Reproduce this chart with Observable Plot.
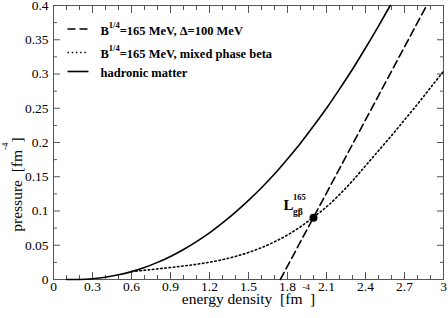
<!DOCTYPE html>
<html><head><meta charset="utf-8">
<script src="https://cdn.jsdelivr.net/npm/d3@7"></script>
<script src="https://cdn.jsdelivr.net/npm/@observablehq/plot@0.6"></script>
<style>
html,body{margin:0;padding:0;background:#fff;}
svg text{white-space:pre;}
</style></head><body><div id="chart"></div>
<script>
// tick values and labels
const xTicks = [0, 0.3, 0.6, 0.9, 1.2, 1.5, 1.8, 2.1, 2.4, 2.7, 3];
const xTickLabels = ["0", "0.3", "0.6", "0.9", "1.2", "1.5", "1.8", "2.1", "2.4", "2.7", "3"];
const xMinor = [0.1, 0.2, 0.4, 0.5, 0.7, 0.8, 1.0, 1.1, 1.3, 1.4, 1.6, 1.7, 1.9, 2.0, 2.2, 2.3, 2.5, 2.6, 2.8, 2.9];
const yTicks = [0, 0.05, 0.1, 0.15, 0.2, 0.25, 0.3, 0.35, 0.4];
const yTickLabels = ["0", "0.05", "0.1", "0.15", "0.2", "0.25", "0.3", "0.35", "0.4"];
const yMinor = [0.025, 0.075, 0.125, 0.175, 0.225, 0.275, 0.325, 0.375];

// series
const seriesNames = ["B^{1/4}=165 MeV, \u0394=100 MeV", "B^{1/4}=165 MeV, mixed phase beta", "hadronic matter"];
const hadronE = [0.1, 0.2, 0.3, 0.4, 0.5, 0.6, 0.7, 0.8, 0.9, 1.0, 1.1, 1.2, 1.3, 1.4, 1.5, 1.6, 1.7, 1.8, 1.9, 2.0, 2.1, 2.2, 2.3, 2.4, 2.5, 2.59];
const hadronP = [0, 0.0001, 0.0011, 0.0033, 0.0068, 0.0115, 0.0175, 0.025, 0.0335, 0.0437, 0.0552, 0.068, 0.0825, 0.0983, 0.1155, 0.134, 0.154, 0.176, 0.199, 0.224, 0.250, 0.278, 0.307, 0.338, 0.370, 0.400];
const mixedE = [0.6, 0.7, 0.8, 0.9, 1.0, 1.1, 1.2, 1.3, 1.4, 1.5, 1.6, 1.7, 1.8, 1.9, 2.0, 2.1, 2.2, 2.3, 2.4, 2.5, 2.6, 2.7, 2.8, 2.9, 3.0];
const mixedP = [0.0115, 0.0135, 0.0155, 0.0175, 0.0197, 0.0222, 0.0252, 0.029, 0.0337, 0.0395, 0.0465, 0.055, 0.065, 0.077, 0.091, 0.106, 0.124, 0.144, 0.166, 0.188, 0.210, 0.233, 0.256, 0.280, 0.304];
const dashE = [1.745, 2.87];
const dashP = [0, 0.4];
const pointE = [2.0];
const pointP = [0.09];
const pointLabel = ["L", "165", "g\u03b2"];

const hadron = hadronE.map((e, i) => ({e, p: hadronP[i]}));
const mixed = mixedE.map((e, i) => ({e, p: mixedP[i]}));
const dashed = dashE.map((e, i) => ({e, p: dashP[i]}));
const point = pointE.map((e, i) => ({e, p: pointP[i]}));

const FONT = "'Liberation Serif', 'Times New Roman', serif";
const GRAY = "#555";
const lineShape = {draw(ctx, l) { ctx.moveTo(0, 0); ctx.lineTo(0, -l); }};
const legendStyles = [
  {strokeDasharray: "8,4", strokeWidth: 1.6},
  {strokeDasharray: "1.5,2.7", strokeWidth: 1.6},
  {strokeDasharray: null, strokeWidth: 1.6}
];
const legendLineDy = [23.5, 47, 66];
const legendTextDy = [29, 52, 71];

const marks = [
  Plot.frame({stroke: GRAY}),
  // inward ticks
  Plot.axisX({anchor: "bottom", ticks: xTicks, tickSize: -7, fill: "none", label: null, stroke: GRAY}),
  Plot.axisX({anchor: "bottom", ticks: xMinor, tickSize: -4, fill: "none", label: null, stroke: GRAY}),
  Plot.axisX({anchor: "top", ticks: xTicks, tickSize: -7, fill: "none", label: null, stroke: GRAY}),
  Plot.axisX({anchor: "top", ticks: xMinor, tickSize: -4, fill: "none", label: null, stroke: GRAY}),
  Plot.axisY({anchor: "left", ticks: yTicks, tickSize: -7, fill: "none", label: null, stroke: GRAY}),
  Plot.axisY({anchor: "left", ticks: yMinor, tickSize: -4, fill: "none", label: null, stroke: GRAY}),
  Plot.axisY({anchor: "right", ticks: yTicks, tickSize: -7, fill: "none", label: null, stroke: GRAY}),
  Plot.axisY({anchor: "right", ticks: yMinor, tickSize: -4, fill: "none", label: null, stroke: GRAY}),
  // tick labels
  Plot.axisX({anchor: "bottom", ticks: xTicks, tickSize: 0, tickPadding: 2, label: null,
    tickFormat: d => xTickLabels[xTicks.indexOf(d)], fontSize: 13.5, fill: "black"}),
  Plot.axisY({anchor: "left", ticks: yTicks, tickSize: 0, tickPadding: 5, label: null,
    tickFormat: d => yTickLabels[yTicks.indexOf(d)], fontSize: 13.5, fill: "black"}),
  // axis titles
  Plot.text(["energy density  [fm^{-4}]"], {frameAnchor: "bottom", text: d => d, dy: 24.5, lineAnchor: "bottom", textAnchor: "middle", fontSize: 15.5, fill: "black"}),
  Plot.text(["pressure  [fm^{-4}]"], {frameAnchor: "left", text: d => d, dx: -36, dy: 42, rotate: -90, lineAnchor: "middle", textAnchor: "middle", fontSize: 15.5, fill: "black"}),
  // curves
  Plot.line(hadron, {x: "e", y: "p", curve: "monotone-x", stroke: "black", strokeWidth: 1.6}),
  Plot.line(mixed, {x: "e", y: "p", curve: "monotone-x", stroke: "black", strokeWidth: 1.6, strokeDasharray: "1.5,2.7"}),
  Plot.line(dashed, {x: "e", y: "p", stroke: "black", strokeWidth: 1.6, strokeDasharray: "8,4"}),
  Plot.dot(point, {x: "e", y: "p", r: 4, fill: "black"}),
  // annotation
  Plot.text(point, {x: "e", y: "p", text: () => pointLabel[0], dx: -30, dy: -7.5, lineAnchor: "bottom", textAnchor: "start", fontWeight: "bold", fontSize: 15, fill: "black"}),
  Plot.text(point, {x: "e", y: "p", text: () => pointLabel[1], dx: -20.5, dy: -17.5, lineAnchor: "bottom", textAnchor: "start", fontWeight: "bold", fontSize: 8.5, fill: "black"}),
  Plot.text(point, {x: "e", y: "p", text: () => pointLabel[2], dx: -20.5, dy: -3, lineAnchor: "bottom", textAnchor: "start", fontWeight: "bold", fontSize: 9.5, fill: "black"})
];
// legend
seriesNames.forEach((name, i) => {
  marks.push(Plot.vector([name], {frameAnchor: "top-left", dx: 14, dy: legendLineDy[i], rotate: 90, length: 21, anchor: "start",
    shape: lineShape, stroke: "black", strokeWidth: legendStyles[i].strokeWidth, strokeDasharray: legendStyles[i].strokeDasharray, strokeLinecap: "butt"}));
  marks.push(Plot.text([name], {frameAnchor: "top-left", text: d => d, dx: 47, dy: legendTextDy[i], lineAnchor: "bottom", textAnchor: "start",
    fontWeight: "bold", fontSize: 12.5, fill: "black"}));
});

const chart = Plot.plot({
  width: 448, height: 318,
  marginLeft: 53, marginRight: 5, marginTop: 5, marginBottom: 39,
  x: {domain: [0, 3]},
  y: {domain: [0, 0.4]},
  style: {fontFamily: FONT, fontSize: "13.5px", background: "white", color: "black"},
  marks
});
document.getElementById("chart").appendChild(chart);

// render superscripts
const NS = "http://www.w3.org/2000/svg";
chart.querySelectorAll("text").forEach(t => {
  const s = t.textContent;
  if (!/\^\{/.test(s)) return;
  const axis = s.includes("fm");
  const sup = axis ? {size: 9, dy: -14} : {size: 8.5, dy: -7};
  const parts = s.split(/(\^\{[^}]*\})/);
  while (t.firstChild) t.removeChild(t.firstChild);
  let shift = 0;
  parts.forEach(p => {
    if (!p) return;
    const ts = document.createElementNS(NS, "tspan");
    if (p.startsWith("^{")) {
      ts.textContent = p.slice(2, -1);
      ts.setAttribute("dy", sup.dy);
      ts.setAttribute("font-size", sup.size);
      shift = sup.dy;
    } else {
      ts.textContent = p;
      if (shift) { ts.setAttribute("dy", -shift); shift = 0; }
    }
    t.appendChild(ts);
  });
});
</script>
</body></html>
